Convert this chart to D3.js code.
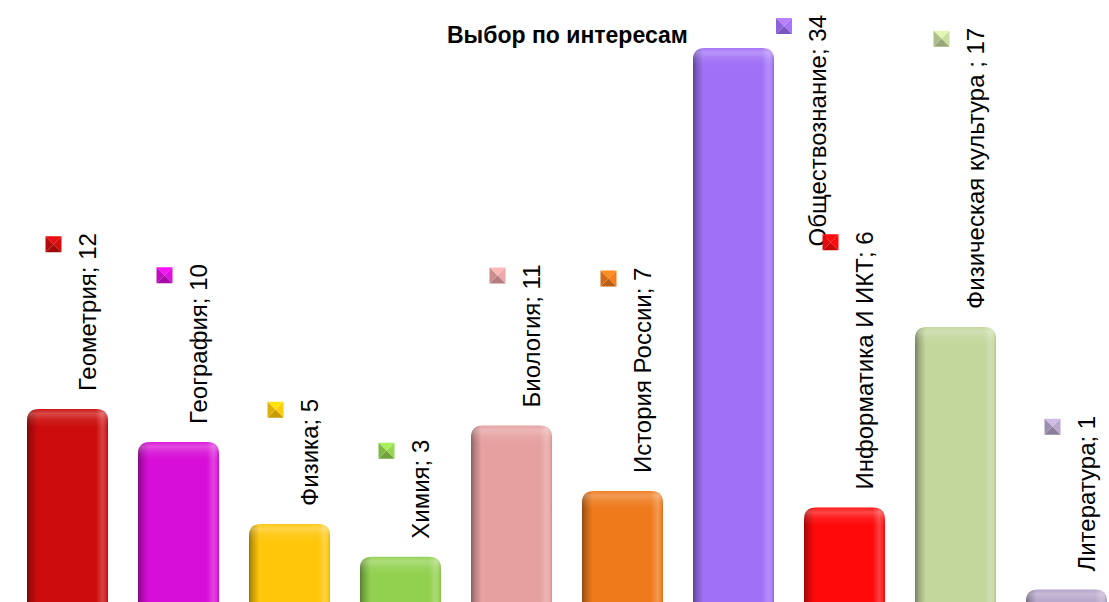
<!DOCTYPE html>
<html><head><meta charset="utf-8">
<script src="https://cdn.jsdelivr.net/npm/d3@7/dist/d3.min.js"></script>
<style>html,body{margin:0;padding:0;background:#fff;overflow:hidden}</style>
</head><body>
<svg id="c" width="1109" height="602"></svg>
<script>
const categories = ["Геометрия","География","Физика","Химия","Биология","История России","Обществознание","Информатика И ИКТ","Физическая культура ","Литература"];
const values = [12,10,5,3,11,7,34,6,17,1];
const colors = ["#CC0C0C","#D70ED7","#FFC60A","#92D050","#E6A0A0","#EE7A1C","#A070F6","#FF0A0A","#C3D69B","#B3A2C7"];
const title = "Выбор по интересам";

const svg = d3.select("#c");
const x = d3.scaleBand().domain(categories).range([12, 1122]).paddingInner(0.27).paddingOuter(0.135);
const y = d3.scaleLinear().domain([0, 34]).range([606, 48]);

const defs = svg.append("defs");
const hg = defs.append("linearGradient").attr("id","hg").attr("x1",0).attr("x2",1).attr("y1",0).attr("y2",0);
[[0,"#000",0.4],[0.05,"#000",0.2],[0.13,"#000",0.0],[0.85,"#fff",0.0],[0.93,"#fff",0.22],[0.97,"#fff",0.12],[1,"#000",0.08]]
 .forEach(s=>hg.append("stop").attr("offset",s[0]).attr("stop-color",s[1]).attr("stop-opacity",s[2]));
const vg = defs.append("linearGradient").attr("id","vg").attr("x1",0).attr("x2",0).attr("y1",0).attr("y2",1);
[[0,"#fff",0.05],[0.25,"#fff",0.25],[0.6,"#fff",0.08],[1,"#fff",0]]
 .forEach(s=>vg.append("stop").attr("offset",s[0]).attr("stop-color",s[1]).attr("stop-opacity",s[2]));

function barPath(x0, y0, w, y1, r){
  return `M${x0},${y1}V${y0+r}Q${x0},${y0} ${x0+r},${y0}H${x0+w-r}Q${x0+w},${y0} ${x0+w},${y0+r}V${y1}Z`;
}

const bw = x.bandwidth();
const g = svg.append("g");
categories.forEach((c,i)=>{
  const x0 = x(c), y0 = y(values[i]), y1 = y(0)+2;
  const p = barPath(x0,y0,bw,y1,12);
  defs.append("clipPath").attr("id","cl"+i).append("path").attr("d",p);
  g.append("path").attr("d",p).attr("fill",colors[i]);
  g.append("path").attr("d",p).attr("fill","url(#hg)");
  g.append("rect").attr("x",x0).attr("y",y0).attr("width",bw).attr("height",18)
    .attr("fill","url(#vg)").attr("clip-path","url(#cl"+i+")");
});

// labels
const lg = svg.append("g");
categories.forEach((c,i)=>{
  const cx = x(c) + bw/2;
  const t = lg.append("text").text(c + "; " + values[i])
    .attr("font-family","'Liberation Sans', Arial, sans-serif").attr("font-size",24).attr("fill","#000");
  const len = t.node().getComputedTextLength();
  let bottom = y(values[i]) - 18;
  let shift = 0;
  if (bottom - len < 15) {
    bottom = 15 + len;
    shift = (x(c) + bw + 2) - (cx - 22);   // move beside the bar
  }
  const bx = cx + 28 + shift;
  t.attr("transform",`translate(${bx},${bottom}) rotate(-90)`);
  const mx = cx - 22 + shift, my = bottom - len + 3, s = 16;
  const col = d3.color(colors[i]);
  const tri = [
    [[0,0],[s,0],[s/2,s/2], col.brighter(0.4)],
    [[s,0],[s,s],[s/2,s/2], col.brighter(0.1)],
    [[0,s],[s,s],[s/2,s/2], col.darker(0.7)],
    [[0,0],[0,s],[s/2,s/2], col.darker(0.35)]
  ];
  const mg = lg.append("g").attr("transform",`translate(${mx},${my})`);
  tri.forEach(tt=>mg.append("path").attr("d",`M${tt[0]}L${tt[1]}L${tt[2]}Z`).attr("fill",tt[3]));
});

svg.append("text").text(title).attr("x",447).attr("y",43)
  .attr("font-family","'Liberation Sans', Arial, sans-serif").attr("font-weight","bold").attr("font-size",23).attr("fill","#000");
</script>
</body></html>
